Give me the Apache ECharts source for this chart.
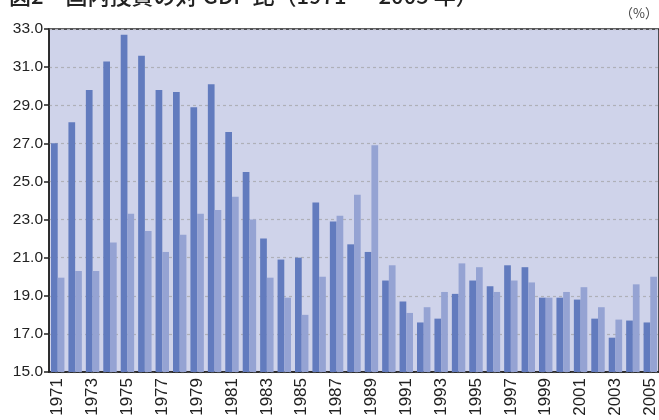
<!DOCTYPE html>
<html>
<head>
<meta charset="utf-8">
<script src="https://cdn.jsdelivr.net/npm/echarts@6/dist/echarts.min.js"></script>
<style>html,body{margin:0;padding:0;background:#fff;}#c{width:659px;height:420px;}</style>
</head>
<body>
<div id="c"></div>
<script>
var years = ['1971','1972','1973','1974','1975','1976','1977','1978','1979','1980',
  '1981','1982','1983','1984','1985','1986','1987','1988','1989','1990',
  '1991','1992','1993','1994','1995','1996','1997','1998','1999','2000',
  '2001','2002','2003','2004','2005'];
var seriesA = [27.0,28.1,29.8,31.3,32.7,31.6,29.8,29.7,28.9,30.1,
  27.6,25.5,22.0,20.9,21.0,23.9,22.9,21.7,21.3,19.8,
  18.7,17.6,17.8,19.1,19.8,19.5,20.6,20.5,18.9,18.9,
  18.8,17.8,16.8,17.7,17.6];
var seriesB = [19.95,20.3,20.3,21.8,23.3,22.4,21.3,22.2,23.3,23.5,
  24.2,23.0,19.95,18.9,18.0,20.0,23.2,24.3,26.9,20.6,
  18.1,18.4,19.2,20.7,20.5,19.2,19.8,19.7,18.9,19.2,
  19.45,18.4,17.75,19.6,20.0];
var yTicks = {min:15, max:33, interval:2};

var chart = echarts.init(document.getElementById('c'));
chart.setOption({
  animation:false,
  title:{text:'図2　国内投資の対 GDP 比（1971 ～ 2005 年）', left:4, top:-20,
    textStyle:{fontSize:22, fontWeight:500, color:'#222', fontFamily:'Noto Sans CJK JP'}},
  graphic:[{type:'text', right:1, top:7, style:{text:'（%）', font:'13px "Noto Sans CJK JP"', fill:'#444'}}],
  grid:{left:49, right:-1, top:29, bottom:48, show:true, backgroundColor:'#CFD3EA', borderColor:'#222', borderWidth:1.5},
  xAxis:{type:'category', data:years, boundaryGap:true,
    axisLine:{lineStyle:{color:'#222', width:1.5}},
    axisTick:{interval:1, length:5, lineStyle:{color:'#222', width:1.5}},
    axisLabel:{interval:1, rotate:90, fontSize:17, color:'#222', fontFamily:'Liberation Sans', margin:6}},
  yAxis:{type:'value', min:yTicks.min, max:yTicks.max, interval:yTicks.interval,
    axisLine:{show:true, lineStyle:{color:'#222', width:1.5}},
    axisTick:{show:true, length:5, lineStyle:{color:'#222', width:1.5}},
    axisLabel:{fontSize:15.5, color:'#222', fontFamily:'Liberation Sans', margin:6,
      formatter:function(v){return v.toFixed(1);}},
    splitLine:{lineStyle:{color:'#AFB0B8', type:[3,3], width:1.2}}},
  series:[
    {type:'bar', data:seriesA, barGap:'0%', barCategoryGap:'23%', itemStyle:{color:'#627BBE'}},
    {type:'bar', data:seriesB, itemStyle:{color:'#95A3D3'}}
  ]
});
</script>
</body>
</html>
